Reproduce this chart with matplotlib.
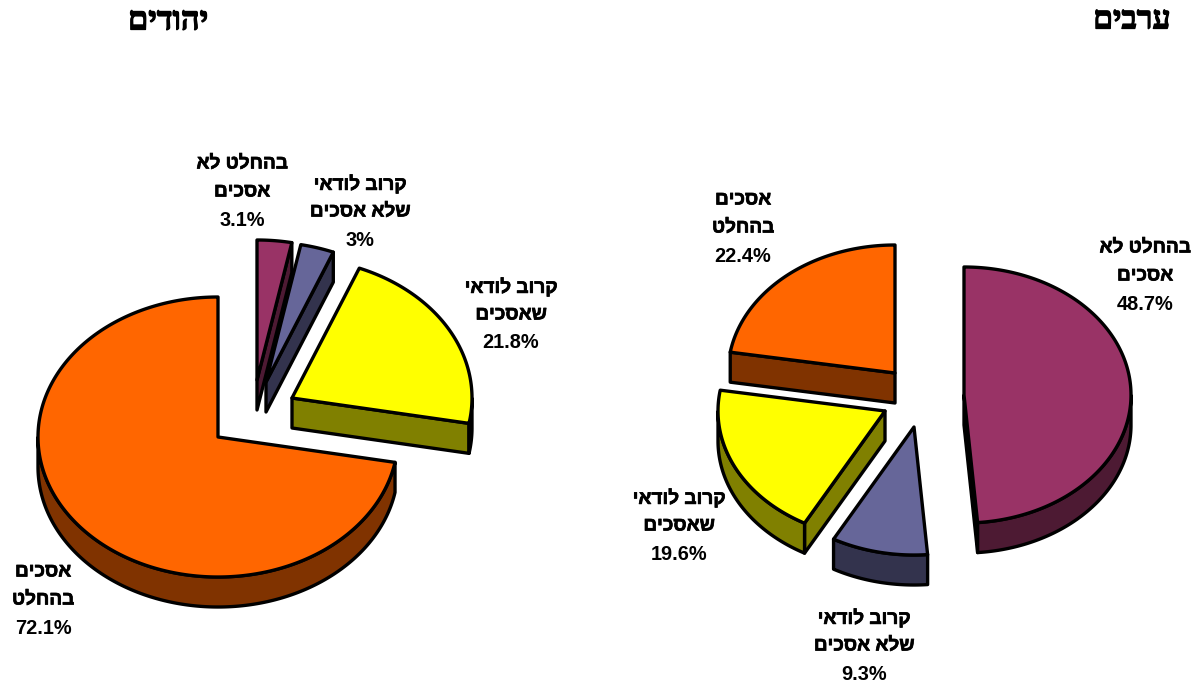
import numpy as np
import matplotlib
matplotlib.use("Agg")
import matplotlib.pyplot as plt
import matplotlib.patheffects as pe
from matplotlib.colors import to_rgb

# data: slices run clockwise from 12 o'clock
jews_title = "יהודים"
arabs_title = "ערבים"
jews_labels = [["בהחלט לא", "אסכים"], ["קרוב לודאי", "שלא אסכים"], ["קרוב לודאי", "שאסכים"], ["אסכים", "בהחלט"]]
jews_values = [3.1, 3.0, 21.8, 72.1]
jews_text = ["3.1%", "3%", "21.8%", "72.1%"]
arabs_labels = [["בהחלט לא", "אסכים"], ["קרוב לודאי", "שלא אסכים"], ["קרוב לודאי", "שאסכים"], ["אסכים", "בהחלט"]]
arabs_values = [48.7, 9.3, 19.6, 22.4]
arabs_text = ["48.7%", "9.3%", "19.6%", "22.4%"]
slice_colors = ["#993366", "#666699", "#FFFF00", "#FF6600"]

# layout in pixels
jews_apex = [(257, 380), (266, 382), (292, 398), (218, 437)]
jews_radii = (180, 140)
jews_label_y0 = [(242, 164), (360, 184), (511, 287), (43, 572)]
arabs_apex = [(964, 395), (914, 427), (885, 411), (895, 373)]
arabs_radii = (167, 128)
arabs_label_y0 = [(1145, 248), (864, 618), (679, 498), (743, 200)]
DEPTH = 30
EDGE = 2.4
LINE = 28


def shade(c):
    return tuple(v * 0.5 for v in to_rgb(c))


def visual(s):
    # matplotlib has no bidi layout, so Hebrew goes in visual order
    return s[::-1]


def wedge(ax, apex, radii, a0, a1, color):
    """The slice runs clockwise from a0 down to a1 (degrees)."""
    cx, cy = apex
    rx, ry = radii
    t = np.radians(np.linspace(a0, a1, max(int(abs(a0 - a1) * 4), 8)))
    x = cx + rx * np.cos(t)
    y = cy - ry * np.sin(t)
    dark = shade(color)
    kw = dict(edgecolor="black", linewidth=EDGE, joinstyle="round")
    # radial walls that face the viewer
    if np.cos(np.radians(a0)) < -1e-6:
        ax.fill([cx, x[0], x[0], cx], [cy, y[0], y[0] + DEPTH, cy + DEPTH], facecolor=dark, **kw)
    if np.cos(np.radians(a1)) > 1e-6:
        ax.fill([cx, x[-1], x[-1], cx], [cy, y[-1], y[-1] + DEPTH, cy + DEPTH], facecolor=dark, **kw)
    # outer wall: the part of the rim that faces the viewer
    mask = np.sin(t) <= 0
    if mask.any():
        xr, yr = x[mask], y[mask]
        ax.fill(np.r_[xr, xr[::-1]], np.r_[yr, yr[::-1] + DEPTH], facecolor=dark, **kw)
    # top face
    ax.fill(np.r_[cx, x], np.r_[cy, y], facecolor=color, **kw)


def pie(ax, values, apexes, radii):
    ang = 90.0
    for v, c, a in zip(values, slice_colors, apexes):
        end = ang - v * 3.6
        wedge(ax, a, radii, ang, end, c)
        ang = end


fig = plt.figure(figsize=(12, 6.89), dpi=100)
ax = fig.add_axes([0, 0, 1, 1])
ax.set_xlim(0, 1200)
ax.set_ylim(689, 0)
ax.axis("off")

pie(ax, jews_values, jews_apex, jews_radii)
pie(ax, arabs_values, arabs_apex, arabs_radii)

bold = [pe.withStroke(linewidth=0.5, foreground="black")]
for labels, texts, pos in ((jews_labels, jews_text, jews_label_y0), (arabs_labels, arabs_text, arabs_label_y0)):
    for lines, pct, (x, y0) in zip(labels, texts, pos):
        for i, l in enumerate(lines):
            ax.text(x, y0 + i * LINE, visual(l), ha="center", va="center", family="Liberation Sans",
                    fontweight="bold", fontsize=13.7, color="black", path_effects=bold)
        ax.text(x, y0 + len(lines) * LINE, pct, ha="center", va="center", family="Liberation Sans",
                fontweight="bold", fontsize=14.4, color="black")

title_fx = [pe.withStroke(linewidth=0.9, foreground="black")]
ax.text(168, 21, visual(jews_title), ha="center", va="center", family="Liberation Serif",
        fontweight="bold", fontsize=23.5, color="black", path_effects=title_fx)
ax.text(1132, 21, visual(arabs_title), ha="center", va="center", family="Liberation Serif",
        fontweight="bold", fontsize=23, color="black", path_effects=title_fx)

fig.savefig("out.png", dpi=100, facecolor="white")
